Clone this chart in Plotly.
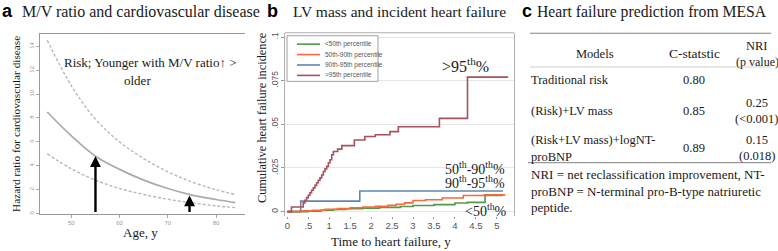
import plotly.graph_objects as go

W, H = 778, 251


def px(x):
    return x / W


def py(y):
    return 1 - y / H


SERIF = "Liberation Serif"
SANS = "Liberation Sans"

# ---------------- Panel a data ----------------
age = [45, 50, 55, 60, 65, 70, 75, 80, 84]
hr_mid = [8.5, 6.5, 4.8, 3.7, 2.8, 2.1, 1.55, 1.18, 0.92]
hr_upper = [14.5, 10.7, 7.9, 6.0, 4.6, 3.5, 2.65, 2.0, 1.6]
hr_lower = [5.0, 3.75, 2.8, 2.1, 1.6, 1.2, 0.9, 0.65, 0.5]
arrow_age = [55, 74.5]
arrow_hr = [4.8, 1.52]
a_xticks = [50, 60, 70, 80]
a_yticks = [0, 2, 4, 6, 8, 10, 12, 14]

# ---------------- Panel b data ----------------
t_lt50 = [0, 0.5, 0.8, 1.1, 1.4, 1.8, 2.2, 2.7, 3.0, 3.5, 4.0, 4.3, 4.72, 5.15]
v_lt50 = [0, 0.0003, 0.0008, 0.0012, 0.0016, 0.002, 0.0024, 0.0029, 0.0035,
          0.004, 0.0049, 0.0053, 0.0093, 0.0093]
t_50_90 = [0, 0.3, 0.6, 0.9, 1.2, 1.5, 1.8, 2.1, 2.4, 2.6, 2.8, 3.0, 3.3, 3.7,
           4.2, 4.7, 5.2]
v_50_90 = [0, 0.0004, 0.0008, 0.0013, 0.0017, 0.0022, 0.0026, 0.003, 0.0036,
           0.0042, 0.005, 0.0064, 0.0068, 0.0078, 0.0092, 0.0096, 0.0096]
t_90_95 = [0, 0.32, 1.73, 5.15]
v_90_95 = [0, 0.006, 0.0118, 0.0118]
t_gt95 = [0, 0.1, 0.38, 0.42, 0.46, 0.5, 0.54, 0.58, 0.62, 0.66, 0.70, 0.74,
          0.78, 0.82, 0.86, 0.9, 0.94, 0.98, 1.02, 1.06, 1.1, 1.2, 1.3, 1.6,
          1.85, 2.1, 2.45, 2.65, 3.63, 4.3, 5.27]
v_gt95 = [0, 0.0026, 0.005, 0.0065, 0.008, 0.0094, 0.0108, 0.0122, 0.0136,
          0.015, 0.0165, 0.018, 0.0193, 0.021, 0.023, 0.0245, 0.0259, 0.028,
          0.0297, 0.0326, 0.0344, 0.0358, 0.0378, 0.041, 0.043, 0.044, 0.0458,
          0.0486, 0.0534, 0.077, 0.077]
b_xticks = [0, 0.5, 1, 1.5, 2, 2.5, 3, 3.5, 4, 4.5, 5]
b_xticktext = ["0", ".5", "1", "1.5", "2", "2.5", "3", "3.5", "4", "4.5", "5"]
b_yticks = [0, 0.025, 0.05, 0.075, 0.1]
b_yticktext = ["0", ".025", ".05", ".075", ".1"]
legend_labels = ["<50th percentile", "50th-90th percentile",
                 "90th-95th percentile", ">95th percentile"]
series_colors = ["#4f9a4a", "#f66a3e", "#5f86b0", "#a5525c"]

# ---------------- Panel c data ----------------
models = ["Traditional risk", "(Risk)+LV mass",
          "(Risk+LV mass)+logNT-<br>proBNP"]
cstat = ["0.80", "0.85", "0.89"]
nri = ["", "0.25<br>(<0.001)", "0.15<br>(0.018)"]
footnote = ["NRI = net reclassification improvement, NT-",
            "proBNP = N-terminal pro-B-type natriuretic",
            "peptide."]

fig = go.Figure()

# ---- panel a traces ----
fig.add_trace(go.Scatter(x=age, y=hr_upper, mode="lines", line_shape="spline",
                         line=dict(color="#b8b8b8", width=1.4, dash="3px,2px"),
                         xaxis="x", yaxis="y", hoverinfo="skip"))
fig.add_trace(go.Scatter(x=age, y=hr_lower, mode="lines", line_shape="spline",
                         line=dict(color="#b8b8b8", width=1.4, dash="3px,2px"),
                         xaxis="x", yaxis="y", hoverinfo="skip"))
fig.add_trace(go.Scatter(x=age, y=hr_mid, mode="lines", line_shape="spline",
                         line=dict(color="#ababab", width=1.7),
                         xaxis="x", yaxis="y", hoverinfo="skip"))

# ---- panel b traces ----
b_series = [(t_90_95, v_90_95, 2), (t_lt50, v_lt50, 0),
            (t_50_90, v_50_90, 1), (t_gt95, v_gt95, 3)]
for tt, vv, ci in b_series:
    fig.add_trace(go.Scatter(x=tt, y=vv, mode="lines", line_shape="hv",
                             line=dict(color=series_colors[ci], width=1.6),
                             xaxis="x2", yaxis="y2", hoverinfo="skip"))

annotations = []
shapes = []


def text(x, y, s, size, family=SERIF, color="#1a1a1a", xanchor="center",
         angle=0, bold=False):
    if bold:
        s = "<b>" + s + "</b>"
    annotations.append(dict(x=px(x), y=py(y), xref="paper", yref="paper",
                            text=s, showarrow=False, xanchor=xanchor,
                            yanchor="middle", textangle=angle, borderpad=0,
                            font=dict(family=family, size=size, color=color)))


# ---- panel labels and titles ----
text(1, 10, "a", 18, family=SANS, color="#000", xanchor="left", bold=True)
text(21, 11, "M/V ratio and cardiovascular disease", 16, xanchor="left")
text(266, 10, "b", 18, family=SANS, color="#000", xanchor="left", bold=True)
text(292, 11, "LV mass and incident heart failure", 15.5, xanchor="left")
text(521, 10, "c", 18, family=SANS, color="#000", xanchor="left", bold=True)
text(536, 11, "Heart failure prediction from MESA", 15.7, xanchor="left")

# ---- panel a texts ----
text(63, 62, "Risk; Younger with M/V ratio\u2191 &gt;", 13, xanchor="left")
text(137, 80, "older", 13)
text(16, 124, "Hazard ratio for cardiovascular disease", 11.3, angle=-90,
     color="#111")
text(140, 233, "Age, y", 13)

# arrows
for aa, hh in zip(arrow_age, arrow_hr):
    annotations.append(dict(x=aa, y=hh, xref="x", yref="y", ax=aa, ay=0,
                            axref="x", ayref="y", text="", showarrow=True,
                            arrowhead=2, arrowsize=0.9, arrowwidth=2.4,
                            arrowcolor="#000", standoff=0))

# ---- panel b texts ----
text(262, 118, "Cumulative heart failure incidence", 12.3, angle=-90)
text(391, 242, "Time to heart failure, y", 13)
text(465, 65, "&gt;95<sup>th</sup>%", 16)
text(506, 168, "50<sup>th</sup>-90<sup>th</sup>%", 14, xanchor="right")
text(506, 182, "90<sup>th</sup>-95<sup>th</sup>%", 14, xanchor="right")
text(508, 211, "&lt;50<sup>th</sup>%", 14, xanchor="right")

# legend box (manual)
shapes.append(dict(type="rect", xref="paper", yref="paper",
                   x0=px(287), x1=px(378), y0=py(81), y1=py(35),
                   line=dict(color="#a0a0a0", width=1), fillcolor="white",
                   layer="above"))
rows = [43.5, 54, 64.5, 75]
for i, (lab, col) in enumerate(zip(legend_labels, series_colors)):
    shapes.append(dict(type="line", xref="paper", yref="paper",
                       x0=px(297), x1=px(320), y0=py(rows[i]), y1=py(rows[i]),
                       line=dict(color=col, width=1.6), layer="above"))
    text(324, rows[i], lab.replace("<", "&lt;").replace(">", "&gt;"), 6.5,
         family=SANS, color="#555", xanchor="left")

# top border of panel b
shapes.append(dict(type="line", xref="x2 domain", yref="y2 domain",
                   x0=0, x1=1, y0=1, y1=1, line=dict(color="#b0b0b0", width=1)))

# ---- panel c table ----
shapes.append(dict(type="line", xref="paper", yref="paper", x0=px(530),
                   x1=px(771), y0=py(32.5), y1=py(32.5),
                   line=dict(color="#808080", width=1)))
shapes.append(dict(type="line", xref="paper", yref="paper", x0=px(530),
                   x1=px(771), y0=py(66.5), y1=py(66.5),
                   line=dict(color="#d0d0d0", width=1)))
shapes.append(dict(type="line", xref="paper", yref="paper", x0=px(528),
                   x1=px(771), y0=py(163), y1=py(163),
                   line=dict(color="#808080", width=1)))

text(595, 53, "Models", 12.5)
text(694, 53, "C-statstic", 13.5)
text(757, 45, "NRI", 12.5)
text(757, 61, "(p value)", 12)

row_y = [80, 111, 148.5]
for i in range(3):
    mlines = models[i].split("<br>")
    if len(mlines) == 1:
        text(530, row_y[i], mlines[0], 12.5, xanchor="left")
    else:
        text(530, row_y[i] - 8.5, mlines[0], 12.5, xanchor="left")
        text(530, row_y[i] + 8.5, mlines[1], 12.5, xanchor="left")
    text(694, row_y[i], cstat[i], 12.5)
    if nri[i]:
        nl = nri[i].split("<br>")
        text(757, row_y[i] - 8, nl[0], 12.5)
        text(757, row_y[i] + 8, nl[1].replace("<", "&lt;"), 12.5)

for i, line in enumerate(footnote):
    text(530, 175 + i * 16.6, line, 13, xanchor="left")

fig.update_layout(
    width=W, height=H, margin=dict(l=0, r=0, t=0, b=0),
    paper_bgcolor="white", plot_bgcolor="white", showlegend=False,
    annotations=annotations, shapes=shapes,
    xaxis=dict(domain=[px(40), px(245)], range=[43.5, 86],
               tickvals=a_xticks, ticks="outside", ticklen=3,
               tickcolor="#aaa", showline=True, linecolor="#999",
               linewidth=1, mirror=True, showgrid=False, zeroline=False,
               tickfont=dict(family=SANS, size=6, color="#999")),
    yaxis=dict(domain=[py(214.3), py(33)], range=[0, 15.05],
               tickvals=a_yticks, ticks="outside", ticklen=3,
               tickcolor="#aaa", showline=True, linecolor="#999",
               linewidth=1, showgrid=False, zeroline=False, tickangle=-90,
               tickfont=dict(family=SANS, size=6, color="#999")),
    xaxis2=dict(domain=[px(285), px(514)], range=[-0.055, 5.41],
                tickvals=b_xticks, ticktext=b_xticktext, ticks="outside",
                ticklen=2, tickcolor="#999", showline=False, showgrid=False,
                zeroline=False, anchor="y2", ticklabelstandoff=-2,
                tickfont=dict(family=SANS, size=9.5, color="#555")),
    yaxis2=dict(domain=[py(217), py(32)], range=[-0.00267, 0.10244],
                tickvals=b_yticks, ticktext=b_yticktext, ticks="outside",
                ticklen=3, tickcolor="#999", showline=True, mirror=True,
                linecolor="#b0b0b0", showgrid=True, gridcolor="#e6e6e6",
                zeroline=False, anchor="x2", tickangle=-90,
                tickfont=dict(family=SANS, size=8.5, color="#555")),
)

fig.write_html(
    "out.html",
    config={"displayModeBar": False, "staticPlot": True},
    post_script="document.body.style.margin='0';document.body.style.padding='0';",
)
